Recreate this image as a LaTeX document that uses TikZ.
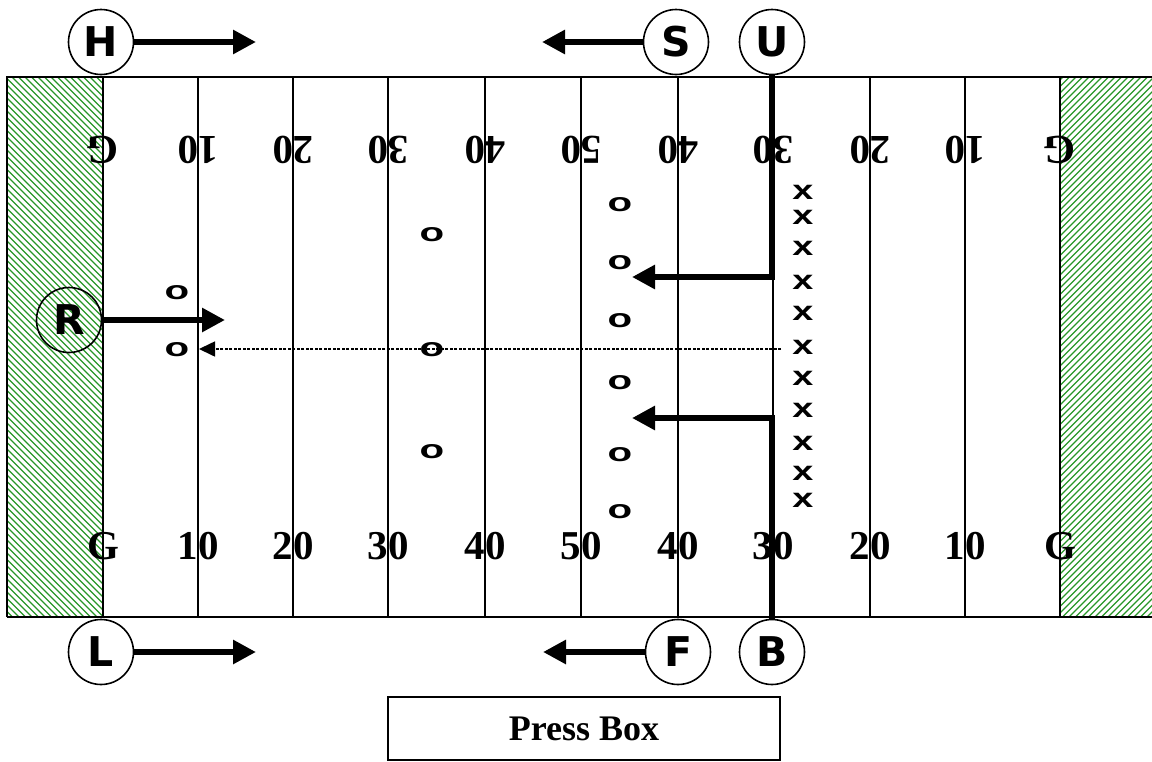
\documentclass[tikz,border=0pt]{standalone}
\usepackage{fontspec}
\setmainfont{Liberation Serif}
\newfontfamily\circfont{DejaVu Sans}
\newfontfamily\markfont{Liberation Sans}
\usetikzlibrary{arrows.meta}
\definecolor{hatchgreen}{RGB}{40,150,40}
\begin{document}
\begin{tikzpicture}[x=1pt,y=-1pt,
  official/.style={circle,draw,line width=1.6pt,minimum size=65pt,inner sep=0pt,
    font=\circfont\bfseries\fontsize{41}{41}\selectfont},
  bigarrow/.style={line width=6.5pt,-{Triangle[length=23pt,width=23pt]},line join=miter},
  dotarrow/.style={line width=1.6pt,dash pattern=on 3pt off 1.5pt,-{Triangle[length=16pt,width=15pt]}},
  thinline/.style={line width=1.3pt},
  thickline/.style={line width=2.8pt},
  hatch/.style={hatchgreen,line width=1.3pt},
  yardnum/.style={inner sep=0pt,font=\bfseries\fontsize{41}{41}\selectfont},
  omark/.style={inner sep=0pt,font=\markfont\bfseries\fontsize{26}{26}\selectfont},
  xmark/.style={inner sep=0pt,font=\markfont\bfseries\fontsize{27}{27}\selectfont},
  pressbox/.style={draw,line width=1.3pt,minimum width=392pt,minimum height=63pt,
    font=\bfseries\fontsize{36}{36}\selectfont}]
\useasboundingbox (0,0) rectangle (1152,761);

% end zones
\begin{scope}
  \clip (7,77) rectangle (103,617);
  \foreach \i in {-560,-553.5,...,110} \draw[hatch] (\i,77) -- (\i+540,617);
\end{scope}
\begin{scope}
  \clip (1060,77) rectangle (1152,617);
  \foreach \i in {510,516.5,...,1160} \draw[hatch] (\i,617) -- (\i+540,77);
\end{scope}

% field outline
\draw[line width=1.6pt] (7,617) -- (7,77) -- (1152,77);
\draw[line width=1.6pt] (7,617) -- (1152,617);

% yard lines
\foreach \xx in {198,293,485,581,678,773,965}
  \draw[thinline] (\xx,77) -- (\xx,617);
\foreach \xx in {103,388,870,1060}
  \draw[thickline] (\xx,77) -- (\xx,617);

% yard numbers
\foreach \xx/\t [count=\k] in {103/G,198/10,293/20,388/30,485/40,581/50,678/40,773/30,870/20,965/10,1060/G}{
  \node[yardnum] (bn\k) at (\xx,546) {\t};
  \node[yardnum,rotate=180] (tn\k) at (\xx,150) {\t};
}

% defence o's
\foreach \xx/\yy [count=\k] in {177/293,177/350,432/235,432/350,432/452,620/205,620/263,620/321,620/383,620/455,620/512}
  \node[omark] (o\k) at (\xx,\yy) {\scalebox{1.55}[1]{o}};

% offence x's
\foreach \yy [count=\k] in {192,217,248,282,313,347,378,410,443,473,500}
  \node[xmark] (x\k) at (803,\yy) {\scalebox{1.4}[1]{x}};

% officials
\node[official] (H) at (101,42) {H};
\node[official] (S) at (676,42) {S};
\node[official] (U) at (772,42) {U};
\node[official] (R) at (69,320) {R};
\node[official] (L) at (101,652) {L};
\node[official] (F) at (678,652) {F};
\node[official] (B) at (772,652) {B};

\coordinate (Hend) at (256,42);
\coordinate (Send) at (542,42);
\coordinate (Lend) at (256,652);
\coordinate (Fend) at (543,652);
\coordinate (Rend) at (225,320);
\coordinate (Uend) at (632,277);
\coordinate (Bend) at (632,418);
\coordinate (dstart) at (781,349);
\coordinate (dend) at (199,349);

\draw[bigarrow] (H.east) -- (Hend);
\draw[bigarrow] (S.west) -- (Send);
\draw[bigarrow] (L.east) -- (Lend);
\draw[bigarrow] (F.west) -- (Fend);
\draw[bigarrow] (R.east) -- (Rend);
\draw[bigarrow] (U.south) |- (Uend);
\draw[bigarrow] (B.north) |- (Bend);
\draw[dotarrow] (dstart) -- (dend);

% press box
\node[pressbox] (press) at (584,728.5) {Press Box};
\end{tikzpicture}
\end{document}
